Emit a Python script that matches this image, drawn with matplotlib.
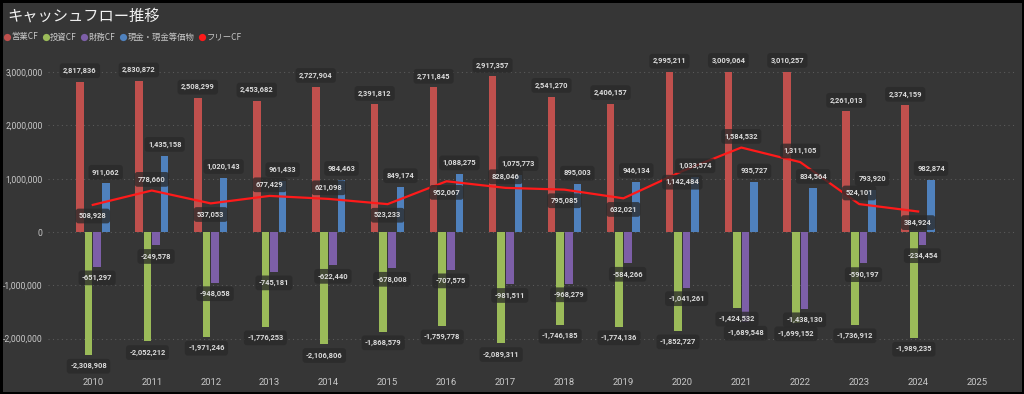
import numpy as np
import matplotlib
matplotlib.use("Agg")
import matplotlib.pyplot as plt
from matplotlib.patches import Rectangle
from matplotlib.lines import Line2D
from matplotlib.ticker import FuncFormatter

plt.rcParams['font.family'] = ['Noto Sans CJK JP', 'DejaVu Sans']

years = ['2010', '2011', '2012', '2013', '2014', '2015', '2016', '2017',
         '2018', '2019', '2020', '2021', '2022', '2023', '2024', '2025']
operating_cf = [2817836, 2830872, 2508299, 2453682, 2727904, 2391812, 2711845, 2917357,
                2541270, 2406157, 2995211, 3009064, 3010257, 2261013, 2374159, np.nan]
investing_cf = [-2308908, -2052212, -1971246, -1776253, -2106806, -1868579, -1759778, -2089311,
                -1746185, -1774136, -1852727, -1424532, -1699152, -1736912, -1989235, np.nan]
financing_cf = [-651297, -249578, -948058, -745181, -622440, -678008, -707575, -981511,
                -968279, -584266, -1041261, -1689548, -1438130, -590197, -234454, np.nan]
cash = [911062, 1435158, 1020143, 961433, 984463, 849174, 1088275, 1075773,
        895003, 946134, 1033574, 935727, 834564, 793920, 982874, np.nan]
free_cf = [508928, 778660, 537053, 677429, 621098, 523233, 952067, 828046,
           795085, 632021, 1142484, 1584532, 1311105, 524101, 384924, np.nan]
series_names = ['営業CF', '投資CF', '財務CF', '現金・現金等価物', 'フリーCF']

# label placement for free CF (1 = above, -1 = below)
free_label_side = [-1, 1, -1, 1, 1, -1, -1, 1, -1, -1, -1, 1, 1, 1, -1, -1]

BG = '#363636'
colors = ['#c0504d', '#9bbb59', '#7d5fa8', '#4f81bd', '#ff1a1a']
txt_col = '#c8c8c8'
num_family = ['Roboto', 'DejaVu Sans']

fig = plt.figure(figsize=(10.24, 3.94), dpi=100, facecolor='black')
fig.add_artist(Rectangle((3 / 1024, 2 / 394), 1019 / 1024, 389 / 394,
                         transform=fig.transFigure, facecolor=BG, edgecolor='none', zorder=-10))

ax = fig.add_axes([48 / 1024, 1 - 368 / 394, 968 / 1024, 313 / 394])
ax.patch.set_alpha(0)

x = np.arange(len(years))
step = 0.146
bw = 0.13
series = [operating_cf, investing_cf, financing_cf, cash]
offsets = [-1.5 * step, -0.5 * step, 0.5 * step, 1.5 * step]
for vals, off, c in zip(series, offsets, colors[:4]):
    ax.bar(x + off, vals, width=bw, color=c, zorder=2)

ax.plot(x, free_cf, color=colors[4], lw=1.6, zorder=3)

ax.set_xlim(-0.76, 15.66)
ax.set_ylim(-2.55e6, 3.32e6)
ax.set_yticks([-2e6, -1e6, 0, 1e6, 2e6, 3e6])
ax.yaxis.set_major_formatter(FuncFormatter(lambda v, p: f'{int(v):,}'))
ax.set_xticks(x)
ax.set_xticklabels(years)
ax.tick_params(axis='both', length=0, colors=txt_col)
ax.tick_params(axis='x', pad=7, labelsize=6.8)
ax.tick_params(axis='y', pad=4, labelsize=6.2)
for lab in ax.get_xticklabels() + ax.get_yticklabels():
    lab.set_family(num_family)
for s in ax.spines.values():
    s.set_visible(False)
ax.grid(axis='y', color='#5a5a5a', ls=(0, (1, 3)), lw=0.8, zorder=0)
ax.set_axisbelow(True)

box = dict(boxstyle='round,pad=0.45,rounding_size=0.4', facecolor='#2a2a2a', edgecolor='none', alpha=0.78)
lab_kw = dict(ha='center', va='center', fontsize=5.4, color='#dcdcdc', fontweight='bold',
              family=num_family, textcoords='offset points', bbox=box, zorder=5)

def label(xv, yv, side):
    if np.isnan(yv):
        return
    ax.annotate(f'{int(yv):,}', (xv, yv), xytext=(0, 8 * side), **lab_kw)

for i in range(len(years)):
    label(x[i] + offsets[0], operating_cf[i], 1)
    label(x[i] + offsets[1], investing_cf[i], -1)
    label(x[i] + offsets[2], financing_cf[i], -1)
    label(x[i] + offsets[3], cash[i], 1)
    label(x[i], free_cf[i], free_label_side[i])

fig.text(7 / 1024, 1 - 16 / 394, 'キャッシュフロー推移', fontsize=11, color='#f2f2f2',
         ha='left', va='center')

handles = [Line2D([], [], ls='none', marker='o', markersize=5.2, markerfacecolor=c,
                  markeredgecolor='none') for c in colors]
fig.legend(handles, series_names, loc='center left', bbox_to_anchor=(3 / 1024, 1 - 37 / 394),
           ncol=5, frameon=False, fontsize=6.0, labelcolor=txt_col, handletextpad=0.05,
           columnspacing=0.5, handlelength=0.9, borderaxespad=0, borderpad=0)

fig.savefig('out.png', dpi=100, facecolor='black')
